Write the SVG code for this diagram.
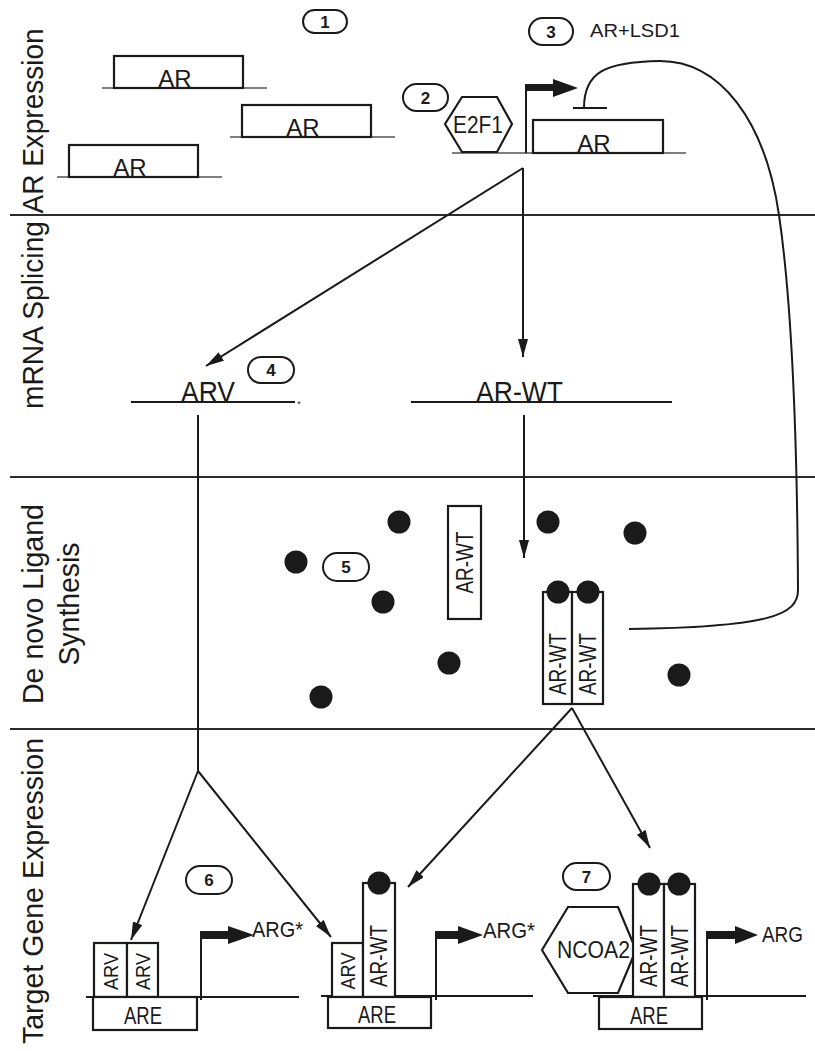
<svg xmlns="http://www.w3.org/2000/svg" width="815" height="1051" viewBox="0 0 815 1051">
<style>
text{font-family:"Liberation Sans",Arial,sans-serif;fill:#1a1a1a}
.lab{font-size:30px;text-anchor:middle}
.t24{font-size:24px;text-anchor:middle}
.t23{font-size:23px;text-anchor:middle}
.t22{font-size:22px}
.num{font-size:17px;font-weight:bold;text-anchor:middle}
.sec{stroke:#2b2b2b;stroke-width:2.2}
.box{fill:#fff;stroke:#1a1a1a;stroke-width:2.2}
.thin{stroke:#555;stroke-width:1.3}
.base{stroke:#1a1a1a;stroke-width:2}
.conn{stroke:#1a1a1a;stroke-width:2;fill:none}
.dot{fill:#1a1a1a}
.pill{fill:#fff;stroke:#1a1a1a;stroke-width:2}
.blk{fill:#1a1a1a}
</style>
<defs>
<marker id="ah" markerUnits="userSpaceOnUse" markerWidth="20" markerHeight="12" refX="18" refY="5" orient="auto"><path d="M0,0 L18,5 L0,10 z" fill="#1a1a1a"/></marker>
</defs>
<rect width="815" height="1051" fill="#fff"/>

<g id="sections">
<line class="sec" x1="10" y1="215" x2="815" y2="215"/>
<line class="sec" x1="10" y1="477" x2="815" y2="477"/>
<line class="sec" x1="10" y1="729" x2="815" y2="729"/>
<text class="lab" transform="translate(43,121) rotate(-90)" textLength="185" lengthAdjust="spacingAndGlyphs">AR Expression</text>
<text class="lab" transform="translate(43,315) rotate(-90)" textLength="188" lengthAdjust="spacingAndGlyphs">mRNA Splicing</text>
<text class="lab" transform="translate(43,604) rotate(-90)" textLength="200" lengthAdjust="spacingAndGlyphs">De novo Ligand</text>
<text class="lab" transform="translate(79,604) rotate(-90)" textLength="123" lengthAdjust="spacingAndGlyphs">Synthesis</text>
<text class="lab" transform="translate(43,891) rotate(-90)" textLength="306" lengthAdjust="spacingAndGlyphs">Target Gene Expression</text>
</g>

<g id="connectors">
<path class="conn" d="M584,108 C584,72 605,62 660,61 C720,61 765,120 779,215 C790,290 797,400 798,590 C798,615 770,627 629,629"/>
<line class="conn" x1="573" y1="108" x2="607" y2="108"/>
<line class="conn" x1="523" y1="168" x2="206" y2="366" marker-end="url(#ah)"/>
<line class="conn" x1="523" y1="168" x2="523" y2="357" marker-end="url(#ah)"/>
<line class="conn" x1="524" y1="415" x2="524" y2="558" marker-end="url(#ah)"/>
<polyline class="conn" points="198,415 198,771"/>
<line class="conn" x1="198" y1="771" x2="131" y2="940" marker-end="url(#ah)"/>
<line class="conn" x1="198" y1="771" x2="331" y2="937" marker-end="url(#ah)"/>
<line class="conn" x1="572" y1="708" x2="408" y2="887" marker-end="url(#ah)"/>
<line class="conn" x1="572" y1="708" x2="650" y2="848" marker-end="url(#ah)"/>
</g>

<g id="pill-1"><rect class="pill" x="303" y="10" width="44" height="23" rx="11.5"/><text class="num" x="325" y="27.5">1</text></g>
<g id="pill-2"><rect class="pill" x="403" y="84" width="45" height="27" rx="13.5"/><text class="num" x="425.5" y="103.5">2</text></g>
<g id="pill-3"><rect class="pill" x="529" y="18" width="44" height="27" rx="13.5"/><text class="num" x="551" y="37.5">3</text></g>
<g id="lsd1-label"><text x="590" y="37" style="font-size:19px" textLength="90" lengthAdjust="spacingAndGlyphs">AR+LSD1</text></g>

<g id="ar-gene-1"><line class="thin" x1="102" y1="88" x2="267" y2="88"/><rect class="box" x="114" y="56" width="129" height="32"/><text class="t24" x="175" y="87">AR</text></g>
<g id="ar-gene-2"><line class="thin" x1="230" y1="137" x2="395" y2="137"/><rect class="box" x="242" y="105" width="129" height="32"/><text class="t24" x="303" y="136">AR</text></g>
<g id="ar-gene-3"><line class="thin" x1="57" y1="177" x2="222" y2="177"/><rect class="box" x="69" y="145" width="129" height="32"/><text class="t24" x="130" y="176">AR</text></g>

<g id="ar-gene-promoter">
<line class="thin" x1="452" y1="153" x2="686" y2="153"/>
<polygon class="box" points="445,124 462,97 497,97 512,124 497,152 462,152"/>
<text x="478" y="133" style="font-size:24px" text-anchor="middle" textLength="50" lengthAdjust="spacingAndGlyphs">E2F1</text>
<line class="base" x1="526" y1="153" x2="526" y2="84"/>
<rect class="blk" x="525" y="84" width="29" height="7"/>
<polygon class="blk" points="553,79 578,88 553,97"/>
<rect class="box" x="533" y="120" width="130" height="33"/>
<text class="t24" x="594" y="152">AR</text>
</g>

<g id="arv-mrna">
<line class="base" x1="131" y1="402" x2="295" y2="402"/>
<text x="208" y="402" style="font-size:30px" text-anchor="middle" textLength="54" lengthAdjust="spacingAndGlyphs">ARV</text>
<text x="299" y="407" style="font-size:9px" text-anchor="middle">*</text>
</g>
<g id="pill-4"><rect class="pill" x="248" y="357" width="46" height="26" rx="13"/><text class="num" x="271" y="376">4</text></g>
<g id="arwt-mrna">
<line class="base" x1="411" y1="402" x2="672" y2="402"/>
<text x="519.5" y="402" style="font-size:29px" text-anchor="middle" textLength="87" lengthAdjust="spacingAndGlyphs">AR-WT</text>
</g>

<g id="ligands">
<circle class="dot" cx="399" cy="522" r="11.5"/>
<circle class="dot" cx="296" cy="562" r="11.5"/>
<circle class="dot" cx="383" cy="602" r="11.5"/>
<circle class="dot" cx="449" cy="663" r="11.5"/>
<circle class="dot" cx="321" cy="697" r="11.5"/>
<circle class="dot" cx="548" cy="522" r="11.5"/>
<circle class="dot" cx="635" cy="533" r="11.5"/>
<circle class="dot" cx="679" cy="675" r="11.5"/>
</g>
<g id="pill-5"><rect class="pill" x="323" y="553" width="46" height="28" rx="14"/><text class="num" x="346" y="573">5</text></g>
<g id="arwt-monomer">
<rect class="box" x="448" y="506" width="33" height="113"/>
<text class="t23" transform="translate(464.5,562.5) rotate(-90)" y="8" textLength="62" lengthAdjust="spacingAndGlyphs">AR-WT</text>
</g>
<g id="arwt-dimer">
<rect class="box" x="543" y="592" width="29" height="112"/>
<rect class="box" x="572" y="592" width="31" height="112"/>
<circle class="dot" cx="558" cy="592" r="11.5"/>
<circle class="dot" cx="588" cy="592" r="11.5"/>
<text class="t23" transform="translate(557.5,664) rotate(-90)" y="8" textLength="62" lengthAdjust="spacingAndGlyphs">AR-WT</text>
<text class="t23" transform="translate(587.5,664) rotate(-90)" y="8" textLength="62" lengthAdjust="spacingAndGlyphs">AR-WT</text>
</g>

<g id="pill-6"><rect class="pill" x="186" y="866" width="46" height="28" rx="14"/><text class="num" x="209" y="886">6</text></g>
<g id="complex-arv-dimer">
<line class="base" x1="86" y1="997" x2="299" y2="997"/>
<rect class="box" x="94" y="943" width="33" height="54"/>
<rect class="box" x="127" y="943" width="31" height="54"/>
<text class="t23" transform="translate(110.5,971.5) rotate(-90)" y="7.5" style="font-size:21px" textLength="37" lengthAdjust="spacingAndGlyphs">ARV</text>
<text class="t23" transform="translate(142.5,971.5) rotate(-90)" y="7.5" style="font-size:21px" textLength="37" lengthAdjust="spacingAndGlyphs">ARV</text>
<rect class="box" x="93" y="997" width="104" height="33"/>
<text class="t23" x="143" y="1024" textLength="38" lengthAdjust="spacingAndGlyphs">ARE</text>
<line class="base" x1="201" y1="1000" x2="201" y2="931"/>
<rect class="blk" x="200" y="931" width="29" height="8"/>
<polygon class="blk" points="228,926 254,935 228,944"/>
<text class="t22" x="252" y="937" textLength="51" lengthAdjust="spacingAndGlyphs">ARG*</text>
</g>

<g id="complex-arv-arwt">
<line class="base" x1="321" y1="996" x2="533" y2="996"/>
<rect class="box" x="332" y="943" width="31" height="54"/>
<rect class="box" x="363" y="883" width="32" height="114"/>
<circle class="dot" cx="379" cy="883" r="11.5"/>
<text class="t23" transform="translate(347.5,971) rotate(-90)" y="7.5" style="font-size:21px" textLength="37" lengthAdjust="spacingAndGlyphs">ARV</text>
<text class="t23" transform="translate(379,956) rotate(-90)" y="8" textLength="62" lengthAdjust="spacingAndGlyphs">AR-WT</text>
<rect class="box" x="328" y="997" width="103" height="31"/>
<text class="t23" x="377" y="1023" textLength="38" lengthAdjust="spacingAndGlyphs">ARE</text>
<line class="base" x1="436" y1="1000" x2="436" y2="931"/>
<rect class="blk" x="435" y="931" width="24" height="8"/>
<polygon class="blk" points="458,926 483,935 458,944"/>
<text class="t22" x="483" y="938" textLength="52" lengthAdjust="spacingAndGlyphs">ARG*</text>
</g>

<g id="pill-7"><rect class="pill" x="563" y="863" width="47" height="27" rx="13.5"/><text class="num" x="586.5" y="882.5">7</text></g>
<g id="complex-ncoa2-arwt">
<line class="base" x1="593" y1="996" x2="806" y2="996"/>
<polygon class="box" points="542,950 568,907 618,907 636,950 618,993 568,993"/>
<text x="593.5" y="958" style="font-size:23px" text-anchor="middle" textLength="73" lengthAdjust="spacingAndGlyphs">NCOA2</text>
<rect class="box" x="633" y="884" width="31" height="113"/>
<rect class="box" x="664" y="884" width="31" height="113"/>
<circle class="dot" cx="649" cy="884" r="11.5"/>
<circle class="dot" cx="679" cy="884" r="11.5"/>
<text class="t23" transform="translate(648.5,956) rotate(-90)" y="8" textLength="62" lengthAdjust="spacingAndGlyphs">AR-WT</text>
<text class="t23" transform="translate(679.5,956) rotate(-90)" y="8" textLength="62" lengthAdjust="spacingAndGlyphs">AR-WT</text>
<rect class="box" x="599" y="997" width="103" height="32"/>
<text class="t23" x="649" y="1024" textLength="38" lengthAdjust="spacingAndGlyphs">ARE</text>
<line class="base" x1="707" y1="1000" x2="707" y2="931"/>
<rect class="blk" x="706" y="931" width="30" height="8"/>
<polygon class="blk" points="735,926 758,935 735,944"/>
<text class="t22" x="762" y="942" textLength="41" lengthAdjust="spacingAndGlyphs">ARG</text>
</g>
</svg>
